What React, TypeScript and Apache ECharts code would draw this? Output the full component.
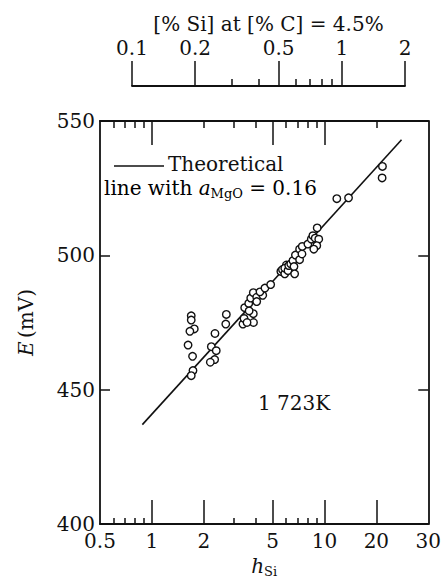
import React, { useEffect, useRef } from "react";
import * as echarts from "echarts";

// ---- data ----
const hSi = [
  1.69, 1.69, 1.76, 1.66, 1.62, 1.72, 1.73, 1.69,
  2.21, 2.32, 2.36, 2.31, 2.18, 2.68, 2.7,
  3.37, 3.42, 3.88, 3.45, 3.64, 3.87, 3.66, 3.74, 3.87, 4.05, 4.05, 4.39, 4.23, 4.52, 4.88, 3.56,
  5.59, 5.71, 5.89, 6.02, 5.89, 6.15, 6.21, 6.38, 6.57, 6.66, 6.72, 6.79, 7.18, 7.18, 7.41, 7.44,
  8.02, 8.39, 8.57, 8.84, 9.27, 9.03, 8.68, 9.08,
  11.8, 13.8, 21.7, 21.6,
];
const emf = [
  477.5, 475.9, 472.6, 471.7, 466.6, 462.4, 457.1, 455.2,
  466.0, 470.9, 464.5, 461.2, 460.2, 474.4, 478.0,
  474.4, 476.5, 475.0, 480.5, 482.1, 478.3, 479.3, 484.1, 486.1, 484.4, 482.8, 485.1, 486.4, 487.8, 489.1, 475.0,
  494.0, 494.7, 493.1, 496.4, 495.2, 494.3, 496.2, 496.8, 498.0, 495.8, 493.1, 500.1, 498.4, 502.3, 500.5, 503.3,
  504.2, 506.0, 507.3, 506.4, 506.0, 503.6, 502.3, 510.2,
  521.1, 521.4, 533.1, 528.8,
];
const lineH = [0.88, 28];
const lineE = [437, 543];

// ---- axes / tick labels ----
const xMin = 0.5;
const xMax = 40;
const xMajorTicks = [1, 2, 5, 10, 20];
const xMinorTicks = [0.6, 0.7, 0.8, 0.9, 3, 4, 6, 7, 8, 9];
const xLabelValues = [0.5, 1, 2, 5, 10, 20, 40];
const xLabelTexts = ["0.5", "1", "2", "5", "10", "20", "30"];
const xTopMajorTicks = [1, 5, 10];
const xTopMinorTicks = [0.6, 0.7, 0.8, 0.9, 2, 3, 4, 6, 7, 8, 9, 20];
const siMin = 0.1;
const siMax = 2;
const siMajorTicks = [0.1, 0.2, 0.5, 1, 2];
const siMinorTicks = [0.3, 0.4, 0.6, 0.7, 0.8, 0.9];
const siLabelTexts = ["0.1", "0.2", "0.5", "1", "2"];
const yMin = 400;
const yMax = 550;
const yInterval = 50;

const FONT = "DejaVu Serif";
const INK = "#111";
const lg = (v: number) => Math.log10(v);

function labelFrom(values: number[], texts: string[]) {
  return (v: number) => {
    for (let i = 0; i < values.length; i++) {
      if (Math.abs(lg(values[i]) - v) < 1e-6) return texts[i];
    }
    return "";
  };
}

export default function App() {
  const ref = useRef<HTMLDivElement>(null);
  useEffect(() => {
    if (!ref.current) return;
    const chart = echarts.init(ref.current, null, { renderer: "svg" });
    const lineStyle = { color: INK, width: 1.8 };
    const tickStyle = { color: INK, width: 1.5 };
    const baseX = {
      type: "value",
      min: lg(xMin),
      max: lg(xMax),
      gridIndex: 0,
      splitLine: { show: false },
    };
    const siX = {
      type: "value",
      min: lg(siMin),
      max: lg(siMax),
      gridIndex: 1,
      splitLine: { show: false },
    };
    const scatterData = hSi.map((h, i) => [lg(h), emf[i]]);
    const lineData = lineH.map((h, i) => [lg(h), lineE[i]]);
    const richSub = {
      i: { fontFamily: FONT, fontStyle: "italic", fontSize: 20, lineHeight: 24, color: INK },
      n: { fontFamily: FONT, fontSize: 20, lineHeight: 24, color: INK },
      sub: { fontFamily: FONT, fontSize: 13, lineHeight: 14, verticalAlign: "bottom", color: INK },
    };
    chart.setOption({
      animation: false,
      backgroundColor: "#fff",
      grid: [
        { left: 100, right: 14, top: 121, bottom: 56 },
        { left: 132, right: 39, top: 86, height: 1 },
      ],
      xAxis: [
        {
          ...baseX,
          position: "bottom",
          axisLine: { show: true, onZero: false, lineStyle },
          axisTick: { show: true, inside: true, length: 24, lineStyle: tickStyle, customValues: xMajorTicks.map(lg) },
          axisLabel: {
            show: true,
            margin: 7,
            fontFamily: FONT,
            fontSize: 20,
            color: INK,
            customValues: xLabelValues.map(lg),
            formatter: labelFrom(xLabelValues, xLabelTexts),
          },
          name: "{i|h}{sub|Si}",
          nameLocation: "middle",
          nameGap: 30,
          nameTextStyle: { color: INK, rich: richSub },
        },
        {
          ...baseX,
          position: "bottom",
          axisLine: { show: false, onZero: false },
          axisTick: { show: true, inside: true, length: 6, lineStyle: tickStyle, customValues: xMinorTicks.map(lg) },
          axisLabel: { show: false },
        },
        {
          ...baseX,
          position: "top",
          axisLine: { show: true, onZero: false, lineStyle },
          axisTick: { show: true, inside: true, length: 24, lineStyle: tickStyle, customValues: xTopMajorTicks.map(lg) },
          axisLabel: { show: false },
        },
        {
          ...baseX,
          position: "top",
          axisLine: { show: false, onZero: false },
          axisTick: { show: true, inside: true, length: 7, lineStyle: tickStyle, customValues: xTopMinorTicks.map(lg) },
          axisLabel: { show: false },
        },
        {
          ...siX,
          position: "top",
          axisLine: { show: true, onZero: false, lineStyle },
          axisTick: { show: true, inside: false, length: 25, lineStyle: tickStyle, customValues: siMajorTicks.map(lg) },
          axisLabel: {
            show: true,
            margin: 28,
            fontFamily: FONT,
            fontSize: 20,
            color: INK,
            customValues: siMajorTicks.map(lg),
            formatter: labelFrom(siMajorTicks, siLabelTexts),
          },
          name: "[% Si] at [% C] = 4.5%",
          nameLocation: "middle",
          nameGap: 52,
          nameTextStyle: { fontFamily: FONT, fontSize: 20, color: INK },
        },
        {
          ...siX,
          position: "top",
          axisLine: { show: false, onZero: false },
          axisTick: { show: true, inside: false, length: 7, lineStyle: tickStyle, customValues: siMinorTicks.map(lg) },
          axisLabel: { show: false },
        },
      ],
      yAxis: [
        {
          type: "value",
          gridIndex: 0,
          min: yMin,
          max: yMax,
          interval: yInterval,
          position: "left",
          splitLine: { show: false },
          axisLine: { show: true, onZero: false, lineStyle },
          axisTick: { show: true, inside: true, length: 10, lineStyle: tickStyle },
          axisLabel: { show: true, margin: 5, fontFamily: FONT, fontSize: 20, color: INK },
          name: "{i|E} {n|(mV)}",
          nameLocation: "middle",
          nameGap: 62,
          nameTextStyle: { color: INK, rich: richSub },
        },
        {
          type: "value",
          gridIndex: 0,
          min: yMin,
          max: yMax,
          interval: yInterval,
          position: "right",
          splitLine: { show: false },
          axisLine: { show: true, onZero: false, lineStyle },
          axisTick: { show: true, inside: true, length: 10, lineStyle: tickStyle },
          axisLabel: { show: false },
        },
        { type: "value", gridIndex: 1, show: false, min: 0, max: 1 },
      ],
      series: [
        {
          type: "line",
          name: "Theoretical",
          xAxisIndex: 0,
          yAxisIndex: 0,
          data: lineData,
          symbol: "none",
          lineStyle: { color: INK, width: 1.6 },
          z: 2,
        },
        {
          type: "scatter",
          name: "measured",
          xAxisIndex: 0,
          yAxisIndex: 0,
          data: scatterData,
          symbol: "circle",
          symbolSize: 7.5,
          itemStyle: { color: "#fff", borderColor: INK, borderWidth: 1.4, opacity: 1 },
          z: 3,
        },
      ],
      graphic: [
        {
          type: "line",
          shape: { x1: 114, y1: 166, x2: 164, y2: 166 },
          style: { stroke: INK, lineWidth: 1.6 },
        },
        {
          type: "text",
          x: 168,
          y: 164,
          style: { text: "Theoretical", fontFamily: FONT, fontSize: 20, fill: INK, verticalAlign: "middle" },
        },
        {
          type: "text",
          x: 104,
          y: 188,
          style: {
            text: "{n|line with }{i|a}{sub|MgO}{n| = 0.16}",
            verticalAlign: "middle",
            rich: richSub,
          },
        },
        {
          type: "text",
          x: 258,
          y: 403,
          style: { text: "1 723K", fontFamily: FONT, fontSize: 20, fill: INK, verticalAlign: "middle" },
        },
      ],
    });
    return () => chart.dispose();
  }, []);
  return (
    <div
      ref={ref}
      style={{ position: "absolute", left: 0, top: 0, width: 444, height: 583, background: "#fff" }}
    />
  );
}
